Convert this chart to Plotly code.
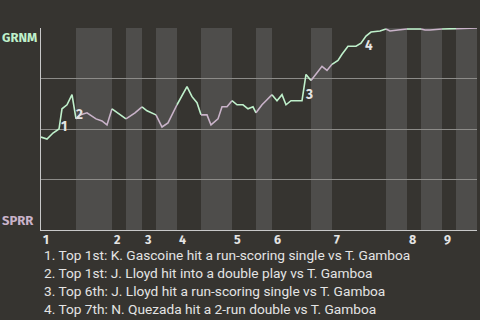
import plotly.graph_objects as go

# Half-inning boundaries (game progress units, plot spans 0..436)
half_bounds = [0, 35, 71, 85, 101, 115, 136, 160, 191, 215, 231, 270, 291, 345, 366, 380, 401, 415, 436]
inning_labels = ["1", "2", "3", "4", "5", "6", "7", "8", "9"]

# Win probability for GRNM (%) along the game
prog = [0, 6, 12, 18, 21, 26, 31, 35, 39, 46, 55, 61, 66, 71, 77, 85, 94, 101, 106, 115,
        121, 127, 136, 146, 151, 156, 160, 166, 170, 177, 181, 186, 191, 196, 202, 207, 212, 215,
        221, 225, 231, 236, 241, 245, 250, 261, 265, 270, 275, 281, 286, 291, 297, 301, 307, 315,
        320, 325, 330, 339, 345, 349, 357, 366, 380, 384, 389, 401, 415, 436]
wp = [46, 45, 48, 50, 60, 62, 67, 55, 57, 58, 55, 54, 52, 60, 58, 55, 58, 61, 59, 57,
      51, 53, 62, 71, 66, 63, 57, 57, 52, 55, 61, 61, 64, 62, 62, 60, 61, 58,
      62, 64, 67, 64, 67, 62, 64, 64, 77, 74, 77, 81, 79, 82, 84, 87, 91, 91,
      92.5, 96, 98, 98.5, 99.5, 98.5, 99, 99.5, 99.5, 99, 99, 99.5, 99.7, 100]

# Key events
ev_labels = ["1", "2", "3", "4"]
ev_x = [23, 38, 268, 328]
ev_y = [51, 57, 67, 91.5]
notes = [
    "1. Top 1st: K. Gascoine hit a run-scoring single vs T. Gamboa",
    "2. Top 1st: J. Lloyd hit into a double play vs T. Gamboa",
    "3. Top 6th: J. Lloyd hit a run-scoring single vs T. Gamboa",
    "4. Top 7th: N. Quezada hit a 2-run double vs T. Gamboa",
]

BG = "#363430"
BAND = "#4e4d4b"
GREEN = "#bff0cb"
LILAC = "#c9b3c9"
TXT = "#e4e4e4"
FONT = "Fira Sans, Roboto, sans-serif"
NOTE_FONT = "Roboto"

fig = go.Figure()

for i in range(len(half_bounds) - 1):
    a, b = half_bounds[i], half_bounds[i + 1]
    xs = [x for x in prog if a <= x <= b]
    ys = [wp[k] for k, x in enumerate(prog) if a <= x <= b]
    fig.add_trace(go.Scatter(x=xs, y=ys, mode="lines",
                             line=dict(color=GREEN if i % 2 == 0 else LILAC, width=1.6),
                             hoverinfo="skip", showlegend=False))
    if i % 2 == 1:
        fig.add_shape(type="rect", xref="x", yref="paper", x0=a, x1=b, y0=0, y1=1,
                      fillcolor=BAND, line_width=0, layer="below")

annots = []
for lab, x, y in zip(ev_labels, ev_x, ev_y):
    annots.append(dict(x=x, y=y, xref="x", yref="y", text=lab, showarrow=False,
                       font=dict(family=FONT, size=13.5, color=TXT, weight="bold")))

for k, lab in enumerate(inning_labels):
    annots.append(dict(x=half_bounds[2 * k], y=0, xref="x", yref="paper", text=lab,
                       showarrow=False, xanchor="left", yanchor="top", yshift=0, xshift=-0.5,
                       font=dict(family=FONT, size=12.5, color=TXT, weight="bold")))

annots.append(dict(x=0, y=1, xref="paper", yref="paper", text="GRNM", showarrow=False,
                   xanchor="right", yanchor="top", xshift=-2, yshift=0,
                   font=dict(family=FONT, size=13, color=GREEN, weight="bold")))
annots.append(dict(x=0, y=0, xref="paper", yref="paper", text="SPRR", showarrow=False,
                   xanchor="right", yanchor="bottom", xshift=-5, yshift=0,
                   font=dict(family=FONT, size=13, color=LILAC, weight="bold")))

for k, t in enumerate(notes):
    annots.append(dict(x=0, y=0, xref="paper", yref="paper", text=t, showarrow=False,
                       xanchor="left", yanchor="middle", xshift=1, yshift=-(24.5 + 18 * k),
                       font=dict(family=NOTE_FONT, size=13.7, color=TXT)))

fig.update_layout(
    width=480, height=320,
    margin=dict(l=41, r=3, t=28, b=90),
    paper_bgcolor=BG, plot_bgcolor=BG,
    annotations=annots,
    xaxis=dict(range=[0, 436], showgrid=False, zeroline=False, showticklabels=False,
               ticks="", showline=True, linecolor="#c8c8c8", linewidth=1),
    yaxis=dict(range=[0, 100], tickvals=[0, 25, 50, 75, 100], showgrid=True,
               gridcolor="#8c8b88", gridwidth=1, zeroline=False, showticklabels=False,
               ticks="", showline=True, linecolor="#c8c8c8", linewidth=1),
)

fig.write_html("out.html")
